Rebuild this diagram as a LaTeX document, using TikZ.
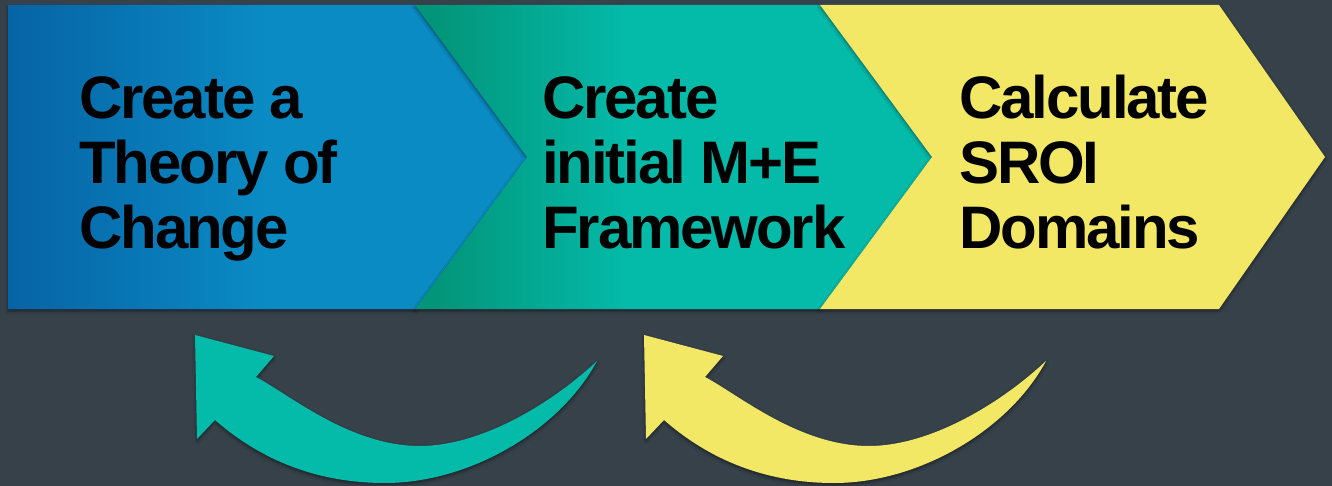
\documentclass[tikz,border=0pt]{standalone}
\usepackage{fontspec}
\setmainfont{Liberation Sans}[LetterSpace=-3.5]
\usetikzlibrary{shadows.blur}
\definecolor{bg}{HTML}{36414A}
\definecolor{blueL}{HTML}{0763A6}
\definecolor{blueR}{HTML}{0A8BC4}
\definecolor{greenL}{HTML}{03957A}
\definecolor{tealc}{HTML}{04BBAA}
\definecolor{yel}{HTML}{F2E866}
\pgfdeclarehorizontalshading{blueshade}{100bp}{color(0bp)=(blueL); color(25bp)=(blueL); color(50bp)=(blueR); color(100bp)=(blueR)}
\pgfdeclarehorizontalshading{greenshade}{100bp}{color(0bp)=(greenL); color(27bp)=(greenL); color(46bp)=(tealc); color(100bp)=(tealc)}
\tikzset{
  chev/.style={blur shadow={shadow xshift=0pt,shadow yshift=-2pt,shadow blur radius=3pt,shadow opacity=45}},
  steptext/.style={anchor=base west, inner sep=0pt, align=left,
    font=\fontsize{60}{65}\selectfont\bfseries, text=black},
  bigarrow/.style={blur shadow={shadow xshift=0pt,shadow yshift=-2pt,shadow blur radius=3pt,shadow opacity=45}}
}
\begin{document}
\begin{tikzpicture}[x=1pt,y=-1pt]
\useasboundingbox (0,0) rectangle (1332,486);
\fill[bg] (0,0) rectangle (1332,486);
% chevrons
\shade[chev, shading=blueshade] (8,5) -- (415,5) -- (527,157) -- (415,309) -- (8,309) -- cycle;
\shade[chev, shading=greenshade] (415,5) -- (820,5) -- (932,157) -- (820,309) -- (415,309) -- (527,157) -- cycle;
\fill[chev, yel] (820,5) -- (1219,5) -- (1325,157) -- (1219,309) -- (820,309) -- (932,157) -- cycle;
% texts (anchor = baseline of last line)
\node[steptext] (t1) at (79,248) {Create a\\Theory of\\Change};
\node[steptext] (t2) at (542,248) {Create\\initial M+E\\Framework};
\node[steptext] (t3) at (959,248) {Calculate\\SROI\\Domains};
% curved arrows
\foreach \dx/\col in {0/tealc,449/yel}{
  \fill[bigarrow, fill=\col, xshift=\dx pt]
    (195,335) -- (274,356) -- (256,377)
    .. controls (290,395) and (350,446) .. (420,446)
    .. controls (480,446) and (550,405) .. (597,361)
    .. controls (560,430) and (470,483) .. (385,483)
    .. controls (310,483) and (255,455) .. (215,420)
    -- (197,439) -- cycle;
}
\end{tikzpicture}
\end{document}
